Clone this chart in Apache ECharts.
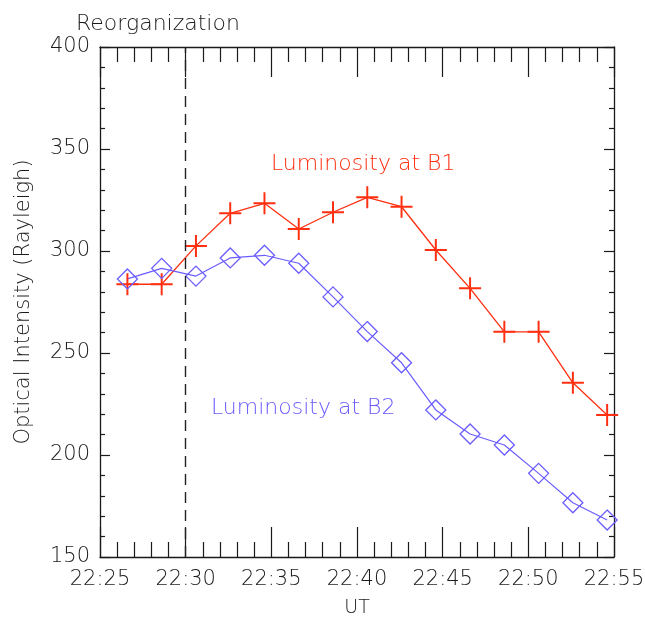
<!DOCTYPE html>
<html>
<head>
<meta charset="utf-8">
<script src="https://cdn.jsdelivr.net/npm/echarts@6/dist/echarts.min.js"></script>
<style>html,body{margin:0;padding:0;background:#fff}#c{width:645px;height:618px}</style>
</head>
<body>
<div id="c"></div>
<script>
// minutes after 22:00 (UT)
const times = [26.6, 28.6, 30.6, 32.6, 34.6, 36.6, 38.6, 40.6, 42.6, 44.6, 46.6, 48.6, 50.6, 52.6, 54.6];
const lumB1 = [283.7, 283.7, 302.5, 318.5, 323.4, 310.8, 319.0, 326.3, 321.7, 300.5, 281.7, 260.4, 260.4, 235.4, 219.6];
const lumB2 = [286.3, 291.5, 287.7, 296.6, 297.9, 294.0, 277.5, 260.5, 245.2, 222.1, 210.3, 204.9, 191.0, 176.6, 168.1];
const xTicks = [25, 30, 35, 40, 45, 50, 55];
const yTicks = [150, 200, 250, 300, 350, 400];
const eventTime = 30;

const RED = '#ff2f10';
const BLUE = '#6a5cff';
const FONT = 'DejaVu Sans';
const TXT = '#1a1a1a';

const chart = echarts.init(document.getElementById('c'), null, {renderer: 'canvas'});
const plus = 'path://M9.1,0H10.9V20H9.1Z M0,9.1H20V10.9H0Z';

function xAxisDef(pos, showLabels) {
  return {
    type: 'value', position: pos,
    min: xTicks[0], max: xTicks[xTicks.length - 1], interval: 5,
    axisLine: {show: true, onZero: false, lineStyle: {color: TXT, width: 1.3}},
    axisTick: {show: true, inside: true, length: 30, lineStyle: {color: TXT, width: 1.2}},
    minorTick: {show: true, splitNumber: 5, length: 15, lineStyle: {color: TXT, width: 1.2}},
    splitLine: {show: false},
    axisLabel: {show: showLabels, margin: 12, color: TXT, fontFamily: FONT, fontSize: 21, fontWeight: 200,
      formatter: v => '22:' + String(v).padStart(2, '0')},
    name: showLabels ? 'UT' : '', nameLocation: 'middle', nameGap: 42,
    nameTextStyle: {color: TXT, fontFamily: FONT, fontSize: 19, fontWeight: 200}
  };
}
function yAxisDef(pos, showLabels) {
  return {
    type: 'value', position: pos,
    min: yTicks[0], max: yTicks[yTicks.length - 1], interval: 50,
    axisLine: {show: true, onZero: false, lineStyle: {color: TXT, width: 1.3}},
    axisTick: {show: true, inside: true, length: 10, lineStyle: {color: TXT, width: 1.2}},
    minorTick: {show: true, splitNumber: 5, length: 5, lineStyle: {color: TXT, width: 1.2}},
    splitLine: {show: false},
    axisLabel: {show: showLabels, margin: 10, color: TXT, fontFamily: FONT, fontSize: 21, fontWeight: 200},
    name: showLabels ? 'Optical Intensity (Rayleigh)' : '', nameLocation: 'middle', nameGap: 66,
    nameTextStyle: {color: TXT, fontFamily: FONT, fontSize: 21, fontWeight: 200}
  };
}

chart.setOption({
  animation: false,
  backgroundColor: '#fff',
  title: {text: 'Reorganization', left: 71, top: 8,
    textStyle: {color: TXT, fontFamily: FONT, fontSize: 22, fontWeight: 200}},
  grid: {left: 100, right: 31, top: 47, bottom: 61, containLabel: false, outerBoundsMode: 'none'},
  xAxis: [xAxisDef('bottom', true), xAxisDef('top', false)],
  yAxis: [yAxisDef('left', true), yAxisDef('right', false)],
  series: [
    {
      name: 'Luminosity at B1', type: 'line',
      data: times.map((t, i) => [t, lumB1[i]]),
      symbol: plus, symbolSize: 22, symbolKeepAspect: true,
      itemStyle: {color: RED},
      lineStyle: {color: RED, width: 1.3},
      markLine: {
        silent: true, symbol: 'none', label: {show: false},
        lineStyle: {color: '#222', type: [11, 7], width: 1.4},
        data: [{xAxis: eventTime}]
      }
    },
    {
      name: 'Luminosity at B2', type: 'line',
      data: times.map((t, i) => [t, lumB2[i]]),
      symbol: 'diamond', symbolSize: 20,
      itemStyle: {color: 'rgba(0,0,0,0)', borderColor: BLUE, borderWidth: 1.3},
      lineStyle: {color: BLUE, width: 1.2}
    }
  ],
  graphic: [
    {type: 'text', left: 271, top: 153, style: {text: 'Luminosity at B1', fill: RED, font: '200 22px "DejaVu Sans"'}},
    {type: 'text', left: 211, top: 397, style: {text: 'Luminosity at B2', fill: BLUE, font: '200 22px "DejaVu Sans"'}}
  ]
});
</script>
</body>
</html>
